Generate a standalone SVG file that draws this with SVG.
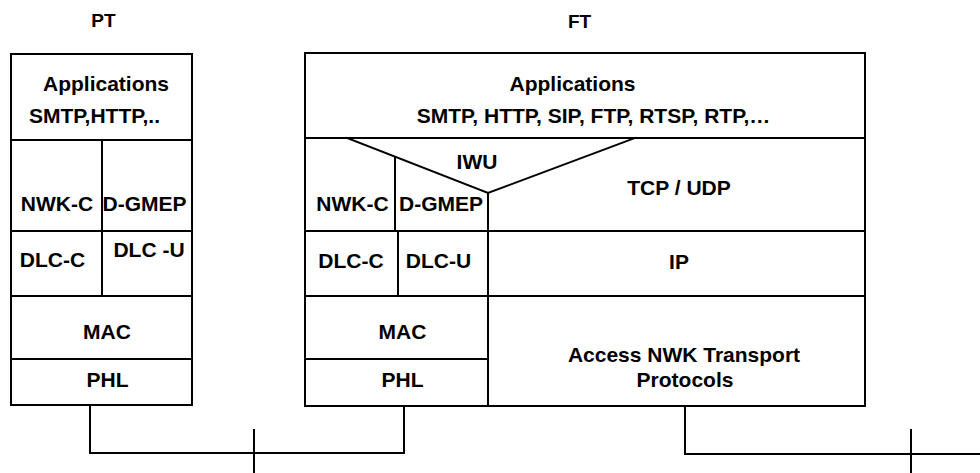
<svg xmlns="http://www.w3.org/2000/svg" width="980" height="473" viewBox="0 0 980 473">
<style>
.ln{fill:none;stroke:#000;stroke-width:2;stroke-linecap:square}
.bx{fill:#fff;stroke:#000;stroke-width:2}
text{font-family:"Liberation Sans",Arial,sans-serif;font-weight:bold;font-size:21px;fill:#000;text-anchor:middle}
.hd{font-size:19px}
</style>
<rect width="980" height="473" fill="#fff"/>
<g id="connectors">
<polyline class="ln" points="90,406 90,453 404,453 404,407"/>
<line class="ln" x1="254" y1="430" x2="254" y2="473"/>
<polyline class="ln" points="685,407 685,454 980,454"/>
<line class="ln" x1="911" y1="430" x2="911" y2="473"/>
</g>
<g id="pt-label"><text class="hd" x="103.5" y="27">PT</text></g>
<g id="ft-label"><text class="hd" x="579.5" y="28">FT</text></g>
<g id="pt-stack">
<g id="pt-app"><rect class="bx" x="11" y="54" width="181" height="86"/><text x="106" y="91">Applications</text><text x="94.5" y="123">SMTP,HTTP,..</text></g>
<g id="pt-nwkc"><rect class="bx" x="11" y="140" width="91" height="91"/><text x="57" y="211">NWK-C</text></g>
<g id="pt-dgmep"><rect class="bx" x="102" y="140" width="90" height="91"/><text x="144.5" y="211">D-GMEP</text></g>
<g id="pt-dlcc"><rect class="bx" x="11" y="231" width="91" height="65"/><text x="52.5" y="267">DLC-C</text></g>
<g id="pt-dlcu"><rect class="bx" x="102" y="231" width="90" height="65"/><text x="149" y="257">DLC -U</text></g>
<g id="pt-mac"><rect class="bx" x="11" y="296" width="181" height="63"/><text x="107" y="339">MAC</text></g>
<g id="pt-phl"><rect class="bx" x="11" y="359" width="181" height="46"/><text x="107.5" y="387">PHL</text></g>
</g>
<g id="ft-stack">
<g id="ft-app"><rect class="bx" x="305" y="53" width="560" height="85"/><text x="572.5" y="91">Applications</text><text x="593.5" y="123">SMTP, HTTP, SIP, FTP, RTSP, RTP,…</text></g>
<g id="ft-upper"><rect class="bx" x="305" y="138" width="560" height="93"/></g>
<g id="ft-iwu"><polyline class="ln" points="347,138 488,193 635,138"/><text x="477" y="169">IWU</text></g>
<g id="ft-nwkc"><line class="ln" x1="395" y1="157" x2="395" y2="231"/><text x="352.5" y="211">NWK-C</text></g>
<g id="ft-dgmep"><line class="ln" x1="488" y1="193" x2="488" y2="231"/><text x="441" y="211">D-GMEP</text></g>
<g id="ft-tcp"><text x="679" y="195">TCP / UDP</text></g>
<g id="ft-dlcc"><rect class="bx" x="305" y="231" width="93" height="65"/><text x="351" y="268">DLC-C</text></g>
<g id="ft-dlcu"><rect class="bx" x="398" y="231" width="90" height="65"/><text x="438.5" y="268">DLC-U</text></g>
<g id="ft-ip"><rect class="bx" x="488" y="231" width="377" height="65"/><text x="679" y="269">IP</text></g>
<g id="ft-mac"><rect class="bx" x="305" y="296" width="183" height="63"/><text x="402.5" y="339">MAC</text></g>
<g id="ft-phl"><rect class="bx" x="305" y="359" width="183" height="47"/><text x="402.5" y="387">PHL</text></g>
<g id="ft-access"><rect class="bx" x="488" y="296" width="377" height="110"/><text x="684" y="362">Access NWK Transport</text><text x="685" y="387">Protocols</text></g>
</g>
</svg>
